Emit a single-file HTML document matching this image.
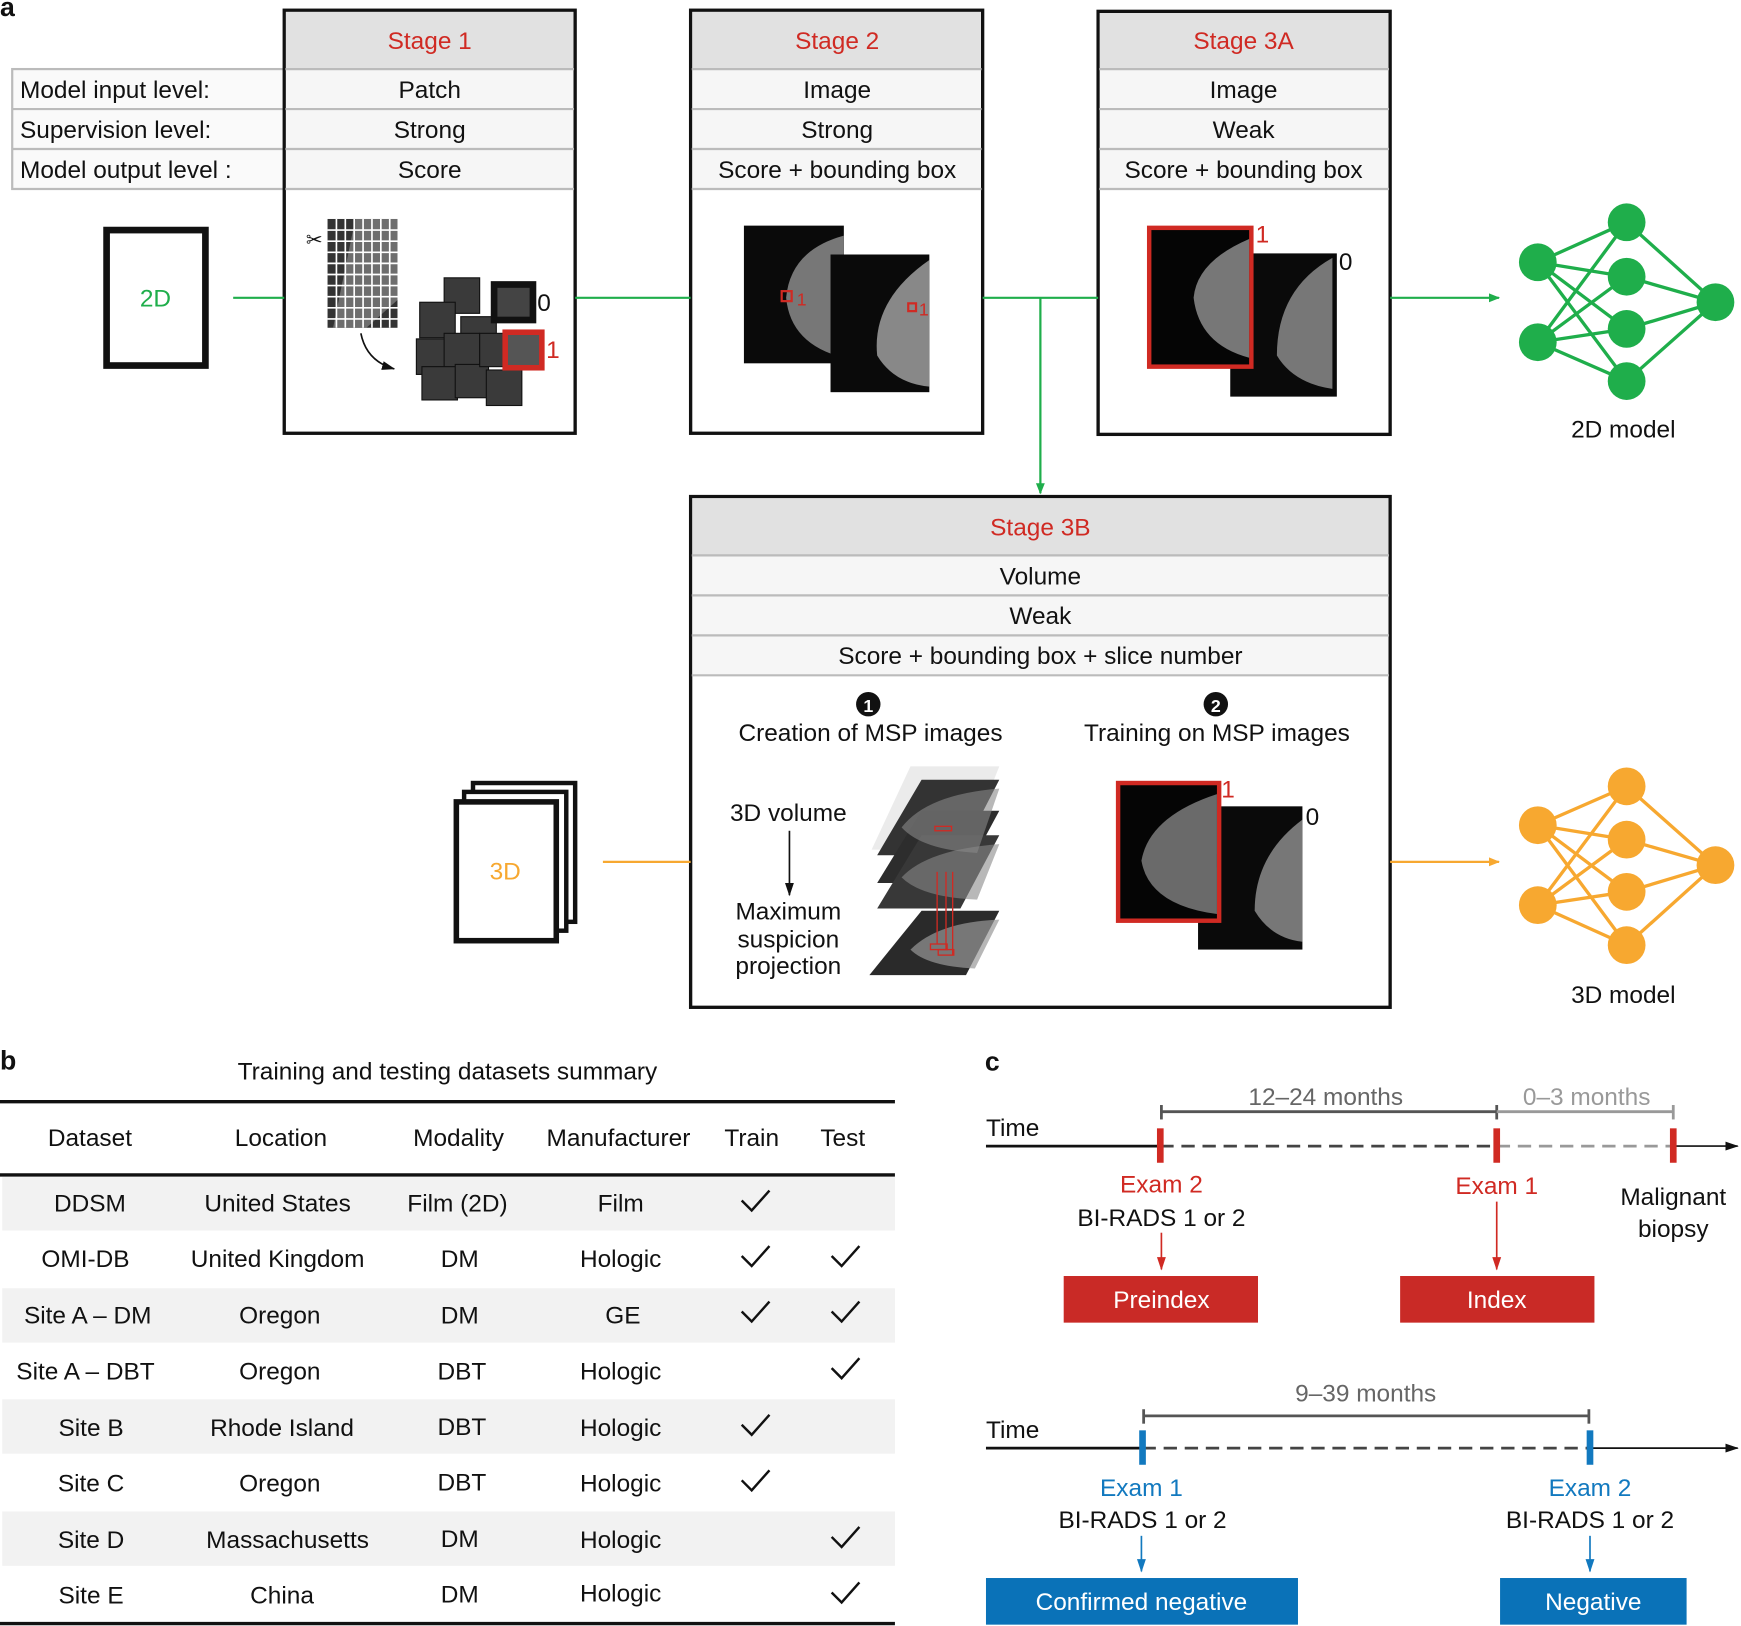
<!DOCTYPE html>
<html><head><meta charset="utf-8"><style>
html,body{margin:0;padding:0;background:#fff}
svg{display:block}
text{font-family:"Liberation Sans",sans-serif;fill:#111}
.r{fill:#d02a23}.g{fill:#1fae4b}.o{fill:#f7a830}.b{fill:#1279bf}.w{fill:#fff}.g5{fill:#666}.g9{fill:#999}
</style></head><body>
<svg width="1741" height="1626" viewBox="0 0 1568 1464" xmlns="http://www.w3.org/2000/svg">
<defs>
<marker id="ag" markerWidth="10" markerHeight="10" refX="9" refY="5" orient="auto" markerUnits="userSpaceOnUse"><path d="M0,1 L10,5 L0,9 z" fill="#1fae4b"/></marker>
<marker id="ao" markerWidth="10" markerHeight="10" refX="9" refY="5" orient="auto" markerUnits="userSpaceOnUse"><path d="M0,1 L10,5 L0,9 z" fill="#f7a830"/></marker>
<marker id="ak" markerWidth="12" markerHeight="10" refX="11" refY="5" orient="auto" markerUnits="userSpaceOnUse"><path d="M0,1 L12,5 L0,9 z" fill="#111"/></marker>
<marker id="ar" markerWidth="12" markerHeight="10" refX="11" refY="5" orient="auto" markerUnits="userSpaceOnUse"><path d="M0,1 L12,5 L0,9 z" fill="#d02a23"/></marker>
<marker id="ab" markerWidth="12" markerHeight="10" refX="11" refY="5" orient="auto" markerUnits="userSpaceOnUse"><path d="M0,1 L12,5 L0,9 z" fill="#1279bf"/></marker>
</defs>
<g font-size="22" text-anchor="middle">
<text x="0" y="14" font-size="24" font-weight="bold" text-anchor="start">a</text>

<rect x="11" y="62" width="245" height="108" fill="#fafafa" stroke="#bbb" stroke-width="2"/>
<line x1="11" y1="98" x2="256" y2="98" stroke="#bbb" stroke-width="2"/>
<line x1="11" y1="134" x2="256" y2="134" stroke="#bbb" stroke-width="2"/>
<g text-anchor="start"><text x="18" y="88">Model input level:</text><text x="18" y="124">Supervision level:</text><text x="18" y="160">Model output level :</text></g>

<rect x="256" y="9" width="262" height="381" fill="#fff" stroke="#111" stroke-width="3"/>
<rect x="257.5" y="10.5" width="259" height="52" fill="#e1e1e1"/>
<rect x="257.5" y="62" width="259" height="108" fill="#f6f6f6"/>
<g stroke="#bbb" stroke-width="2"><line x1="257" y1="62" x2="517" y2="62"/><line x1="257" y1="98" x2="517" y2="98"/><line x1="257" y1="134" x2="517" y2="134"/><line x1="257" y1="170" x2="517" y2="170"/></g>
<text x="387" y="44" class="r">Stage 1</text>
<text x="387" y="88">Patch</text><text x="387" y="124">Strong</text><text x="387" y="160">Score</text>

<rect x="622" y="9" width="263" height="381" fill="#fff" stroke="#111" stroke-width="3"/>
<rect x="623.5" y="10.5" width="260" height="52" fill="#e1e1e1"/>
<rect x="623.5" y="62" width="260" height="108" fill="#f6f6f6"/>
<g stroke="#bbb" stroke-width="2"><line x1="623" y1="62" x2="884" y2="62"/><line x1="623" y1="98" x2="884" y2="98"/><line x1="623" y1="134" x2="884" y2="134"/><line x1="623" y1="170" x2="884" y2="170"/></g>
<text x="754" y="44" class="r">Stage 2</text>
<text x="754" y="88">Image</text><text x="754" y="124">Strong</text><text x="754" y="160">Score + bounding box</text>

<rect x="989" y="10" width="263" height="381" fill="#fff" stroke="#111" stroke-width="3"/>
<rect x="990.5" y="11.5" width="260" height="51" fill="#e1e1e1"/>
<rect x="990.5" y="62" width="260" height="108" fill="#f6f6f6"/>
<g stroke="#bbb" stroke-width="2"><line x1="990" y1="62" x2="1251" y2="62"/><line x1="990" y1="98" x2="1251" y2="98"/><line x1="990" y1="134" x2="1251" y2="134"/><line x1="990" y1="170" x2="1251" y2="170"/></g>
<text x="1120" y="44" class="r">Stage 3A</text>
<text x="1120" y="88">Image</text><text x="1120" y="124">Weak</text><text x="1120" y="160">Score + bounding box</text>

<rect x="96" y="207" width="89" height="122" fill="#fff" stroke="#111" stroke-width="6"/>
<text x="140" y="276" class="g">2D</text>

<rect x="295" y="197" width="63" height="98" fill="#333"/>
<path d="M320,197 L358,197 L358,270 L330,295 L300,295 Z" fill="#888" opacity="0.7"/>
<g stroke="#fff" stroke-width="1.5">
<line x1="303" y1="197" x2="303" y2="295"/><line x1="311" y1="197" x2="311" y2="295"/><line x1="319" y1="197" x2="319" y2="295"/><line x1="327" y1="197" x2="327" y2="295"/><line x1="335" y1="197" x2="335" y2="295"/><line x1="343" y1="197" x2="343" y2="295"/><line x1="351" y1="197" x2="351" y2="295"/>
<line x1="295" y1="207" x2="358" y2="207"/><line x1="295" y1="217" x2="358" y2="217"/><line x1="295" y1="227" x2="358" y2="227"/><line x1="295" y1="237" x2="358" y2="237"/><line x1="295" y1="247" x2="358" y2="247"/><line x1="295" y1="257" x2="358" y2="257"/><line x1="295" y1="267" x2="358" y2="267"/><line x1="295" y1="277" x2="358" y2="277"/><line x1="295" y1="287" x2="358" y2="287"/></g>
<text x="283" y="222" font-size="18">✂</text>
<path d="M325,300 Q330,325 355,332" fill="none" stroke="#111" stroke-width="1.5" marker-end="url(#ak)"/>
<g fill="#3a3a3a" stroke="#111" stroke-width="1">
<rect x="400" y="250" width="32" height="32"/><rect x="378" y="272" width="32" height="32"/><rect x="415" y="285" width="32" height="32"/><rect x="375" y="305" width="32" height="32"/><rect x="400" y="300" width="32" height="32"/><rect x="380" y="330" width="32" height="30"/><rect x="410" y="328" width="30" height="30"/><rect x="438" y="333" width="32" height="32"/><rect x="432" y="300" width="25" height="30"/></g>
<rect x="445" y="256" width="35" height="32" fill="#444" stroke="#111" stroke-width="6"/>
<rect x="455" y="299" width="33" height="32" fill="#555" stroke="#d02a23" stroke-width="5"/>
<text x="490" y="280">0</text><text x="498" y="322" class="r">1</text>

<rect x="670" y="203" width="90" height="124" fill="#0a0a0a"/>
<path d="M760,212 Q712,225 708,268 Q712,310 760,322 Z" fill="#777"/>
<rect x="748" y="229" width="89" height="124" fill="#0a0a0a"/>
<path d="M837,234 Q785,270 790,320 Q805,345 837,348 Z" fill="#888"/>
<rect x="704" y="262" width="9" height="9" fill="none" stroke="#d02a23" stroke-width="2"/>
<rect x="818" y="273" width="7" height="7" fill="none" stroke="#d02a23" stroke-width="2"/>
<text x="722" y="275" font-size="16" class="r">1</text><text x="832" y="284" font-size="16" class="r">1</text>

<rect x="1108" y="228" width="96" height="129" fill="#0a0a0a"/>
<path d="M1200,232 Q1150,260 1150,320 Q1165,345 1200,350 Z" fill="#777"/>
<rect x="1035" y="205" width="92" height="125" fill="#050505" stroke="#d02a23" stroke-width="4"/>
<path d="M1125,215 Q1078,235 1075,268 Q1080,310 1125,322 Z" fill="#777"/>
<text x="1137" y="218" class="r">1</text><text x="1212" y="243">0</text>

<g stroke="#1fae4b" stroke-width="2" fill="none">
<line x1="210" y1="268" x2="256" y2="268"/><line x1="518" y1="268" x2="622" y2="268"/>
<line x1="885" y1="268" x2="989" y2="268"/>
<line x1="1252" y1="268" x2="1350" y2="268" marker-end="url(#ag)"/>
<line x1="937" y1="268" x2="937" y2="444" marker-end="url(#ag)"/>
</g>

<g stroke="#1fae4b" stroke-width="3">
<path d="M1385,236 L1465,200 M1385,236 L1465,249 M1385,236 L1465,296 M1385,236 L1465,343 M1385,308 L1465,200 M1385,308 L1465,249 M1385,308 L1465,296 M1385,308 L1465,343 M1465,200 L1545,272 M1465,249 L1545,272 M1465,296 L1545,272 M1465,343 L1545,272"/></g>
<g fill="#1fae4b"><circle cx="1385" cy="236" r="17"/><circle cx="1385" cy="308" r="17"/><circle cx="1465" cy="200" r="17"/><circle cx="1465" cy="249" r="17"/><circle cx="1465" cy="296" r="17"/><circle cx="1465" cy="343" r="17"/><circle cx="1545" cy="272" r="17"/></g>
<text x="1462" y="394">2D model</text>
<g stroke="#f7a830" stroke-width="3">
<path d="M1385,743 L1465,708 M1385,743 L1465,756 M1385,743 L1465,803 M1385,743 L1465,851 M1385,815 L1465,708 M1385,815 L1465,756 M1385,815 L1465,803 M1385,815 L1465,851 M1465,708 L1545,779 M1465,756 L1545,779 M1465,803 L1545,779 M1465,851 L1545,779"/></g>
<g fill="#f7a830"><circle cx="1385" cy="743" r="17"/><circle cx="1385" cy="815" r="17"/><circle cx="1465" cy="708" r="17"/><circle cx="1465" cy="756" r="17"/><circle cx="1465" cy="803" r="17"/><circle cx="1465" cy="851" r="17"/><circle cx="1545" cy="779" r="17"/></g>
<text x="1462" y="903">3D model</text>

<rect x="622" y="447" width="630" height="460" fill="#fff" stroke="#111" stroke-width="3"/>
<rect x="623.5" y="448.5" width="627" height="52" fill="#e1e1e1"/>
<rect x="623.5" y="500" width="627" height="108" fill="#f6f6f6"/>
<g stroke="#bbb" stroke-width="2"><line x1="623" y1="500" x2="1251" y2="500"/><line x1="623" y1="536" x2="1251" y2="536"/><line x1="623" y1="572" x2="1251" y2="572"/><line x1="623" y1="608" x2="1251" y2="608"/></g>
<text x="937" y="482" class="r">Stage 3B</text>
<text x="937" y="526">Volume</text><text x="937" y="562">Weak</text><text x="937" y="598">Score + bounding box + slice number</text>
<circle cx="782" cy="634" r="11" fill="#111"/><text x="782" y="641" font-size="16" font-weight="bold" class="w">1</text>
<circle cx="1095" cy="634" r="11" fill="#111"/><text x="1095" y="641" font-size="16" font-weight="bold" class="w">2</text>
<text x="784" y="667">Creation of MSP images</text>
<text x="1096" y="667">Training on MSP images</text>
<text x="710" y="739">3D volume</text>
<line x1="711" y1="748" x2="711" y2="806" stroke="#111" stroke-width="1.5" marker-end="url(#ak)"/>
<text x="710" y="828">Maximum</text><text x="710" y="853">suspicion</text><text x="710" y="877">projection</text>
<g>
<path d="M820,690 L900,690 L870,765 L785,765 Z" fill="#d8d8d8" opacity="0.5"/>
<path d="M830,702 L900,702 L865,770 L790,770 Z" fill="#333"/>
<path d="M830,730 L900,730 L865,795 L790,795 Z" fill="#2d2d2d"/>
<path d="M830,752 L900,752 L865,818 L790,818 Z" fill="#383838"/>
<path d="M900,710 Q835,715 812,745 Q830,765 880,768 Z" fill="#888" opacity="0.6"/>
<path d="M900,760 Q835,765 812,790 Q830,808 880,810 Z" fill="#888" opacity="0.6"/>
<path d="M830,820 L900,820 L870,878 L783,878 Z" fill="#2a2a2a"/>
<path d="M900,828 Q845,830 820,855 Q835,870 878,872 Z" fill="#999" opacity="0.7"/>
<g stroke="#d02a23" stroke-width="1.2" fill="none"><rect x="842" y="744" width="15" height="4"/><line x1="844" y1="785" x2="844" y2="850"/><line x1="852" y1="785" x2="852" y2="855"/><line x1="858" y1="785" x2="858" y2="860"/><rect x="838" y="850" width="15" height="5"/><rect x="845" y="855" width="14" height="5"/></g>
</g>
<rect x="1079" y="726" width="94" height="129" fill="#0a0a0a"/>
<path d="M1173,738 Q1130,770 1130,820 Q1145,845 1173,848 Z" fill="#777"/>
<rect x="1007" y="705" width="91" height="124" fill="#050505" stroke="#d02a23" stroke-width="4"/>
<path d="M1096,715 Q1035,735 1028,775 Q1035,815 1096,823 Z" fill="#6a6a6a"/>
<text x="1106" y="718" class="r">1</text><text x="1182" y="743">0</text>

<rect x="426" y="705" width="92" height="125" fill="#fff" stroke="#111" stroke-width="4"/>
<rect x="418" y="713" width="92" height="125" fill="#fff" stroke="#111" stroke-width="4"/>
<rect x="411" y="722" width="90" height="125" fill="#fff" stroke="#111" stroke-width="5"/>
<text x="455" y="792" class="o">3D</text>
<g stroke="#f7a830" stroke-width="2"><line x1="543" y1="776" x2="622" y2="776"/><line x1="1252" y1="776" x2="1350" y2="776" marker-end="url(#ao)"/></g>

<text x="0" y="963" font-size="24" font-weight="bold" text-anchor="start">b</text>
<text x="403" y="972">Training and testing datasets summary</text>
<line x1="0" y1="992" x2="806" y2="992" stroke="#111" stroke-width="3"/>
<text x="81" y="1032">Dataset</text><text x="253" y="1032">Location</text><text x="413" y="1032">Modality</text><text x="557" y="1032">Manufacturer</text><text x="677" y="1032">Train</text><text x="759" y="1032">Test</text>
<line x1="0" y1="1058" x2="806" y2="1058" stroke="#111" stroke-width="3"/>
<g fill="#f2f2f2"><rect x="2" y="1060" width="804" height="48"/><rect x="2" y="1160" width="804" height="49"/><rect x="2" y="1260" width="804" height="49"/><rect x="2" y="1361" width="804" height="49"/></g>
<line x1="0" y1="1462" x2="806" y2="1462" stroke="#111" stroke-width="3"/>
<g>
<text x="81" y="1091">DDSM</text><text x="250" y="1091">United States</text><text x="412" y="1091">Film (2D)</text><text x="559" y="1091">Film</text>
<text x="77" y="1141">OMI-DB</text><text x="250" y="1141">United Kingdom</text><text x="414" y="1141">DM</text><text x="559" y="1141">Hologic</text>
<text x="79" y="1192">Site A – DM</text><text x="252" y="1192">Oregon</text><text x="414" y="1192">DM</text><text x="561" y="1192">GE</text>
<text x="77" y="1242">Site A – DBT</text><text x="252" y="1242">Oregon</text><text x="416" y="1242">DBT</text><text x="559" y="1242">Hologic</text>
<text x="82" y="1293">Site B</text><text x="254" y="1293">Rhode Island</text><text x="416" y="1292">DBT</text><text x="559" y="1293">Hologic</text>
<text x="82" y="1343">Site C</text><text x="252" y="1343">Oregon</text><text x="416" y="1342">DBT</text><text x="559" y="1343">Hologic</text>
<text x="82" y="1394">Site D</text><text x="259" y="1394">Massachusetts</text><text x="414" y="1393">DM</text><text x="559" y="1394">Hologic</text>
<text x="82" y="1444">Site E</text><text x="254" y="1444">China</text><text x="414" y="1443">DM</text><text x="559" y="1442">Hologic</text>
</g>
<g fill="none" stroke="#111" stroke-width="2.2">
<path d="M668,1081 l9,9 l16,-18"/><path d="M668,1131 l9,9 l16,-18"/><path d="M749,1131 l9,9 l16,-18"/>
<path d="M668,1181 l9,9 l16,-18"/><path d="M749,1181 l9,9 l16,-18"/><path d="M749,1232 l9,9 l16,-18"/>
<path d="M668,1283 l9,9 l16,-18"/><path d="M668,1333 l9,9 l16,-18"/><path d="M749,1384 l9,9 l16,-18"/><path d="M749,1434 l9,9 l16,-18"/>
</g>

<text x="887" y="964" font-size="24" font-weight="bold" text-anchor="start">c</text>
<text x="888" y="1023" text-anchor="start">Time</text>
<line x1="888" y1="1032" x2="1045" y2="1032" stroke="#111" stroke-width="2.5"/>
<line x1="1045" y1="1032" x2="1348" y2="1032" stroke="#444" stroke-width="2.5" stroke-dasharray="12,7"/>
<line x1="1348" y1="1032" x2="1507" y2="1032" stroke="#999" stroke-width="2.5" stroke-dasharray="12,7"/>
<line x1="1507" y1="1032" x2="1565" y2="1032" stroke="#111" stroke-width="1.5" marker-end="url(#ak)"/>
<g fill="#d02a23"><rect x="1042" y="1016" width="6" height="31"/><rect x="1345" y="1016" width="6" height="31"/><rect x="1504" y="1016" width="6" height="31"/></g>
<g stroke="#555" stroke-width="2.5"><line x1="1045" y1="1001" x2="1348" y2="1001"/><line x1="1046" y1="995" x2="1046" y2="1008"/><line x1="1348" y1="995" x2="1348" y2="1008"/></g>
<g stroke="#999" stroke-width="2.5"><line x1="1348" y1="1001" x2="1507" y2="1001"/><line x1="1507" y1="995" x2="1507" y2="1008"/></g>
<text x="1194" y="995" class="g5">12–24 months</text><text x="1429" y="995" class="g9">0–3 months</text>
<text x="1046" y="1074" class="r">Exam 2</text><text x="1046" y="1104">BI-RADS 1 or 2</text>
<line x1="1046" y1="1110" x2="1046" y2="1143" stroke="#d02a23" stroke-width="1.5" marker-end="url(#ar)"/>
<text x="1348" y="1075" class="r">Exam 1</text>
<line x1="1348" y1="1082" x2="1348" y2="1143" stroke="#d02a23" stroke-width="1.5" marker-end="url(#ar)"/>
<text x="1507" y="1085">Malignant</text><text x="1507" y="1114">biopsy</text>
<rect x="958" y="1149" width="175" height="42" fill="#c92a26"/><text x="1046" y="1178" class="w">Preindex</text>
<rect x="1261" y="1149" width="175" height="42" fill="#c92a26"/><text x="1348" y="1178" class="w">Index</text>

<text x="888" y="1295" text-anchor="start">Time</text>
<line x1="888" y1="1304" x2="1029" y2="1304" stroke="#111" stroke-width="2.5"/>
<line x1="1029" y1="1304" x2="1432" y2="1304" stroke="#444" stroke-width="2.5" stroke-dasharray="12,7"/>
<line x1="1432" y1="1304" x2="1565" y2="1304" stroke="#111" stroke-width="1.5" marker-end="url(#ak)"/>
<g fill="#1279bf"><rect x="1026" y="1288" width="6" height="31"/><rect x="1429" y="1288" width="6" height="31"/></g>
<g stroke="#555" stroke-width="2.5"><line x1="1029" y1="1275" x2="1432" y2="1275"/><line x1="1030" y1="1269" x2="1030" y2="1282"/><line x1="1431" y1="1269" x2="1431" y2="1282"/></g>
<text x="1230" y="1262" class="g5">9–39 months</text>
<text x="1028" y="1347" class="b">Exam 1</text><text x="1029" y="1376">BI-RADS 1 or 2</text>
<line x1="1028" y1="1383" x2="1028" y2="1415" stroke="#1279bf" stroke-width="1.5" marker-end="url(#ab)"/>
<text x="1432" y="1347" class="b">Exam 2</text><text x="1432" y="1376">BI-RADS 1 or 2</text>
<line x1="1432" y1="1383" x2="1432" y2="1415" stroke="#1279bf" stroke-width="1.5" marker-end="url(#ab)"/>
<rect x="888" y="1421" width="281" height="42" fill="#0a72b8"/><text x="1028" y="1450" class="w">Confirmed negative</text>
<rect x="1351" y="1421" width="168" height="42" fill="#0a72b8"/><text x="1435" y="1450" class="w">Negative</text>
</g>
</svg>
</body></html>
